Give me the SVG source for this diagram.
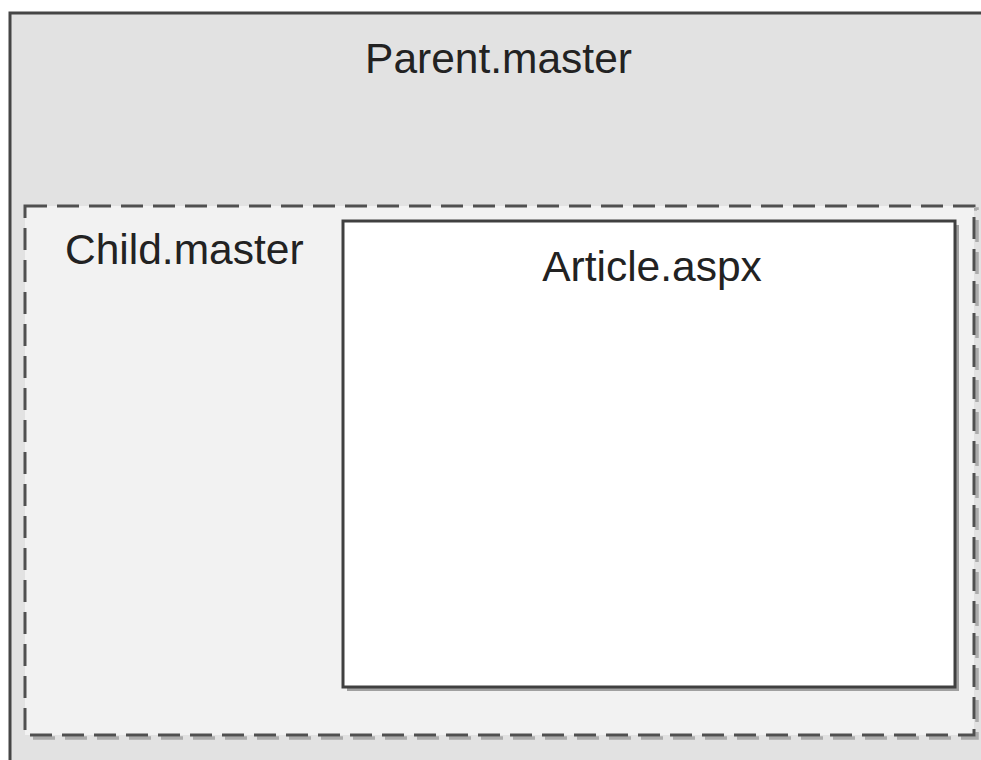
<svg xmlns="http://www.w3.org/2000/svg" width="981" height="760" viewBox="0 0 981 760">
<style>
  .lbl { font-family: "Liberation Sans", Arial, sans-serif; font-size: 42.5px; fill: #222; }
</style>
<rect x="0" y="0" width="981" height="760" fill="#ffffff"/>
<g id="parent">
  <rect x="10" y="13" width="990" height="770" fill="#e2e2e2" stroke="#454545" stroke-width="3"/>
  <text class="lbl" x="498.5" y="73" text-anchor="middle">Parent.master</text>
</g>
<g id="child">
  <rect x="28" y="209" width="949" height="529" fill="none" stroke="#ababab" stroke-width="3.5" stroke-dasharray="22 10"/>
  <rect x="25" y="206" width="949" height="529" fill="#f2f2f2" stroke="#505050" stroke-width="3" stroke-dasharray="22 10"/>
  <text class="lbl" x="65" y="264">Child.master</text>
</g>
<g id="article">
  <rect x="347" y="225" width="612" height="466" fill="#a0a0a0"/>
  <rect x="343" y="221" width="612" height="466" fill="#ffffff" stroke="#404040" stroke-width="3"/>
  <text class="lbl" x="652" y="281" text-anchor="middle">Article.aspx</text>
</g>
<g id="connectors"></g>
</svg>
